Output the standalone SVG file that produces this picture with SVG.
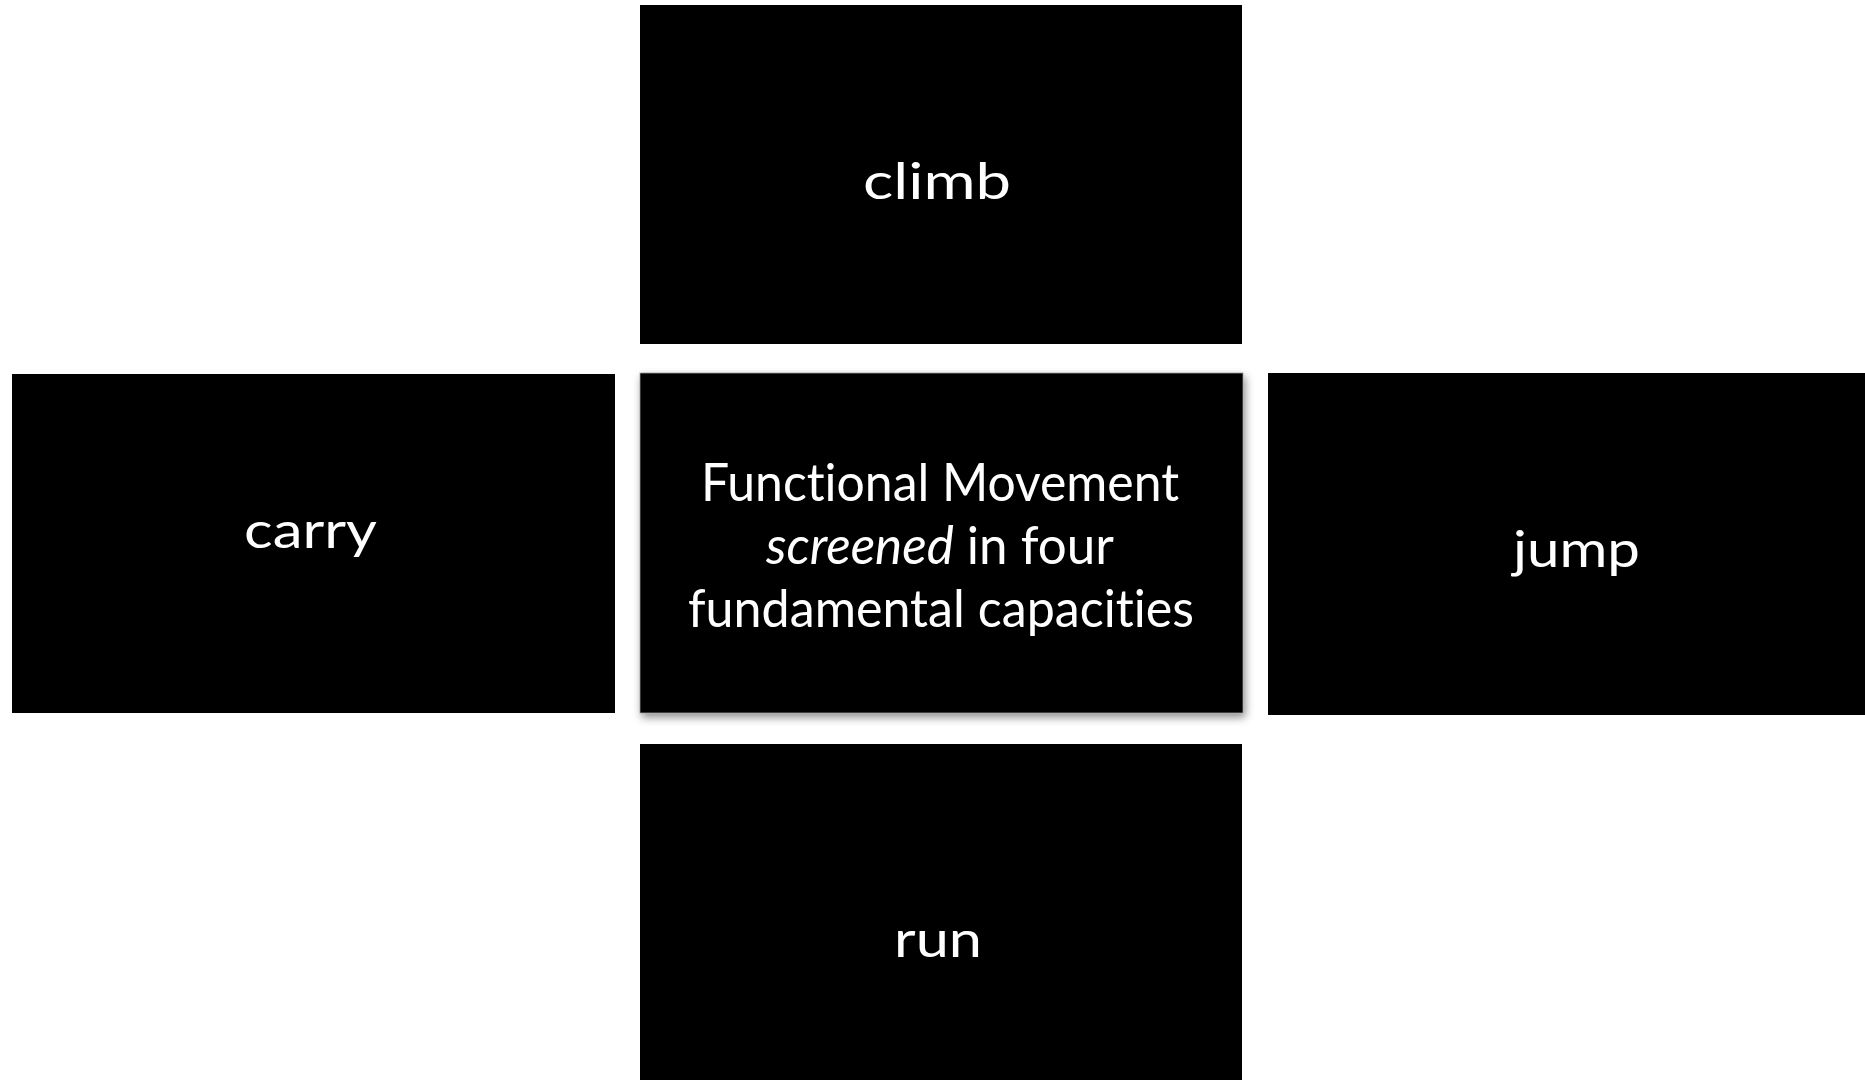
<svg xmlns="http://www.w3.org/2000/svg" width="1865" height="1080" viewBox="0 0 1865 1080">
  <style>
    .box { fill: #000000; }
    .lbl { font-family: Lato, "Open Sans", "Liberation Sans", sans-serif; font-size: 51px; fill: #ffffff; font-variant-ligatures: none; }
    .mid { font-size: 52px; }
  </style>
  <defs>
    <filter id="shadow" x="-5%" y="-5%" width="112%" height="115%">
      <feDropShadow dx="2" dy="4" stdDeviation="4" flood-color="#000000" flood-opacity="0.45"/>
    </filter>
  </defs>
  <rect width="1865" height="1080" fill="#ffffff"/>

  <g id="climb">
    <rect class="box" x="640" y="5" width="602" height="339"/>
    <text class="lbl" x="863" y="199" textLength="148" lengthAdjust="spacingAndGlyphs">climb</text>
  </g>

  <g id="carry">
    <rect class="box" x="12" y="374" width="603" height="339"/>
    <text class="lbl" x="244" y="548" textLength="133" lengthAdjust="spacingAndGlyphs">carry</text>
  </g>

  <g id="functional-movement">
    <rect class="box" x="640" y="373" width="603" height="340" filter="url(#shadow)" stroke="#9a9a9a" stroke-width="0.8"/>
    <text class="lbl mid" x="701" y="501" textLength="478" lengthAdjust="spacingAndGlyphs">Functional Movement</text>
    <text class="lbl mid" x="766" y="564" textLength="348" lengthAdjust="spacingAndGlyphs"><tspan font-style="italic">screened</tspan> in four</text>
    <text class="lbl mid" x="688" y="627" textLength="506" lengthAdjust="spacingAndGlyphs">fundamental capacities</text>
  </g>

  <g id="jump">
    <rect class="box" x="1268" y="373" width="597" height="342"/>
    <text class="lbl" x="1513" y="567" textLength="127" lengthAdjust="spacingAndGlyphs">jump</text>
  </g>

  <g id="run">
    <rect class="box" x="640" y="744" width="602" height="336"/>
    <text class="lbl" x="894" y="957" textLength="88" lengthAdjust="spacingAndGlyphs">run</text>
  </g>
</svg>
